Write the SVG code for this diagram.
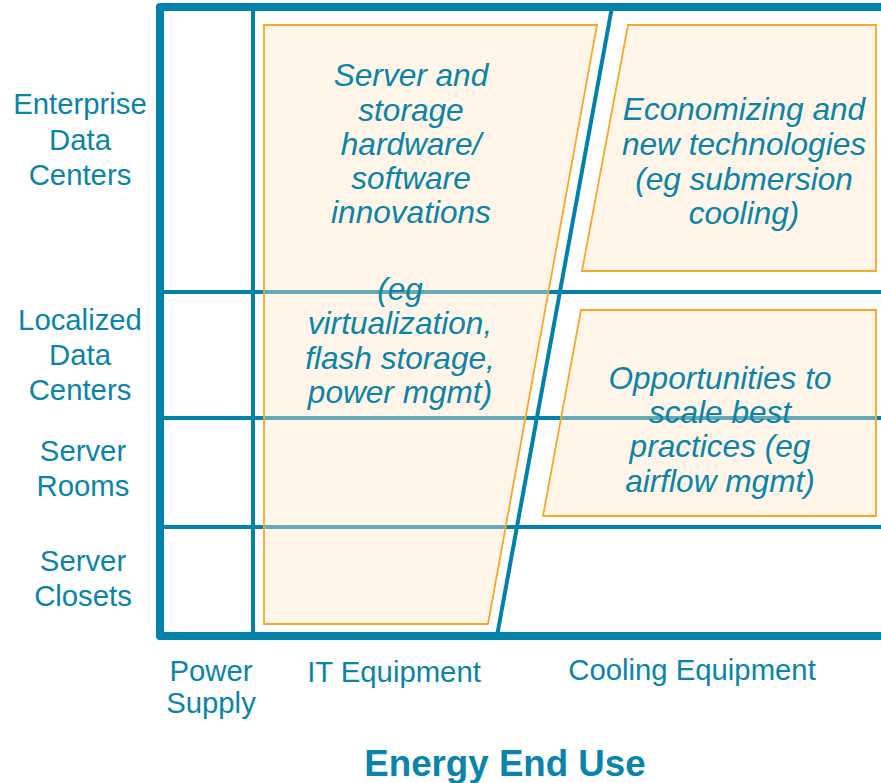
<svg xmlns="http://www.w3.org/2000/svg" width="881" height="783" viewBox="0 0 881 783">
<style>
.frame{fill:none;stroke:#0281A9;stroke-width:8;stroke-linejoin:round}
.grid{stroke:#0281A9;stroke-width:4;fill:none}
.shape{fill:#FFE6C5;fill-opacity:0.4;stroke:#F9A825;stroke-width:1.8}
text{font-family:"Liberation Sans",Arial,sans-serif;fill:#0A84A9;text-anchor:middle}
.lab{font-size:29.3px}
.it{font-size:31.6px;font-style:italic}
.title{font-size:36.7px;font-weight:bold}
</style>
<rect width="881" height="783" fill="#fff"/>
<g id="connectors">
  <path class="grid" d="M160,292H881M160,418H881M160,527H881"/>
  <path class="grid" d="M253,7V636"/>
  <path class="grid" d="M612,7L497,636"/>
  <path class="frame" d="M881,7H160V636H881"/>
</g>
<g id="it-innovations">
  <polygon class="shape" points="264,25 597,25 488,624 264,624"/>
  <text class="it"><tspan x="411" y="86">Server and</tspan><tspan x="411" y="121">storage</tspan><tspan x="411" y="155">hardware/</tspan><tspan x="411" y="189">software</tspan><tspan x="411" y="223">innovations</tspan><tspan x="400" y="300">(eg</tspan><tspan x="400" y="334">virtualization,</tspan><tspan x="400" y="369">flash storage,</tspan><tspan x="400" y="403">power mgmt)</tspan></text>
</g>
<g id="economizing">
  <polygon class="shape" points="628,25 876,25 876,271 582,271"/>
  <text class="it"><tspan x="744" y="120">Economizing and</tspan><tspan x="744" y="155">new technologies</tspan><tspan x="744" y="190">(eg submersion</tspan><tspan x="744" y="224">cooling)</tspan></text>
</g>
<g id="best-practices">
  <polygon class="shape" points="581,310 876,310 876,516 543,516"/>
  <text class="it"><tspan x="720" y="389">Opportunities to</tspan><tspan x="720" y="423">scale best</tspan><tspan x="720" y="457">practices (eg</tspan><tspan x="720" y="492">airflow mgmt)</tspan></text>
</g>
<g id="row-labels">
  <text class="lab"><tspan x="80" y="114">Enterprise</tspan><tspan x="80" y="150">Data</tspan><tspan x="80" y="185">Centers</tspan></text>
  <text class="lab"><tspan x="80" y="330">Localized</tspan><tspan x="80" y="365">Data</tspan><tspan x="80" y="400">Centers</tspan></text>
  <text class="lab"><tspan x="83" y="461">Server</tspan><tspan x="83" y="496">Rooms</tspan></text>
  <text class="lab"><tspan x="83" y="571">Server</tspan><tspan x="83" y="606">Closets</tspan></text>
</g>
<g id="column-labels">
  <text class="lab"><tspan x="211" y="681">Power</tspan><tspan x="211" y="713">Supply</tspan></text>
  <text class="lab" x="394" y="682">IT Equipment</text>
  <text class="lab" x="692" y="680">Cooling Equipment</text>
  <text class="title" x="505" y="776">Energy End Use</text>
</g>
</svg>
